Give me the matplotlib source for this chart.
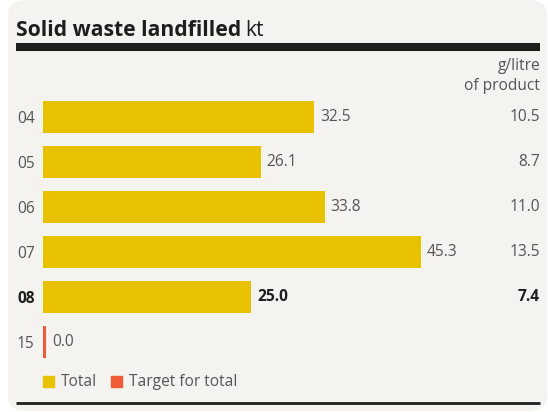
import matplotlib.pyplot as plt
from matplotlib.patches import FancyBboxPatch, Rectangle
from matplotlib.lines import Line2D

years = ['04', '05', '06', '07', '08', '15']
totals = [32.5, 26.1, 33.8, 45.3, 25.0, 0.0]
per_litre = ['10.5', '8.7', '11.0', '13.5', '7.4', '']
bold_year = '08'

yellow = '#e8c200'
red = '#ef5b36'
grey = '#555555'
dark = '#1e1e1e'
panel = '#f4f3ef'

W, H = 548, 412
FS = 11.2
plt.rcParams['font.family'] = ['Open Sans', 'DejaVu Sans']

fig = plt.figure(figsize=(W / 100, H / 100), dpi=100)
fig.patch.set_facecolor('white')


def fx(px):
    return px / W


def fy(py):
    return 1 - py / H


# panel background
fig.patches.append(FancyBboxPatch((fx(8), fy(411)), fx(539), 411 / H,
                                  boxstyle='round,pad=0,rounding_size=0.035',
                                  transform=fig.transFigure, facecolor=panel,
                                  edgecolor='none', zorder=-5))

# title
t1 = fig.text(fx(16), fy(36), 'Solid waste landfilled', fontsize=15.2, fontweight='bold',
              color=dark, va='baseline')
fig.canvas.draw()
x_end = t1.get_window_extent().x1
fig.text(x_end / W + fx(4), fy(36), 'kt', fontsize=15.2, color=dark, va='baseline')
fig.lines.append(Line2D([fx(16), fx(540)], [fy(47), fy(47)], lw=5.8, color=dark,
                        transform=fig.transFigure, solid_capstyle='butt'))
fig.lines.append(Line2D([fx(16), fx(540)], [fy(403), fy(403)], lw=2, color=dark,
                        transform=fig.transFigure, solid_capstyle='butt'))

fig.text(fx(540), fy(70), 'g/litre', fontsize=FS, color=grey, ha='right', va='baseline')
fig.text(fx(540), fy(90), 'of product', fontsize=FS, color=grey, ha='right', va='baseline')

# bars
ax = fig.add_axes([fx(43), fy(364.5), fx(500), 270 / H])
ax.set_facecolor('none')
ax.set_xlim(0, 60)
ax.set_ylim(len(years) - 0.5, -0.5)
for s in ax.spines.values():
    s.set_visible(False)
ax.set_xticks([])

ypos = list(range(len(years)))
ax.barh(ypos[:-1], totals[:-1], height=0.69, color=yellow)
ax.barh(ypos[-1:], [0.35], height=0.69, color=red)

ax.set_yticks(ypos)
ax.set_yticklabels(years, fontsize=FS, color=grey)
ax.tick_params(axis='y', length=0, pad=6)
for lab in ax.get_yticklabels():
    if lab.get_text() == bold_year:
        lab.set_fontweight('bold')
        lab.set_color(dark)

for i, (y, v) in enumerate(zip(years, totals)):
    b = y == bold_year
    x = max(v, 0.35)
    ax.annotate(f'{v:.1f}', (x, i), xytext=(6, 0), textcoords='offset pixels',
                va='center', ha='left', fontsize=FS,
                fontweight='bold' if b else 'normal', color=dark if b else grey)
    if per_litre[i]:
        ax.text(0.994, i, per_litre[i], transform=ax.get_yaxis_transform(),
                ha='right', va='center', fontsize=FS,
                fontweight='bold' if b else 'normal', color=dark if b else grey)

# legend
fig.patches.append(Rectangle((fx(43), fy(387)), fx(11), 11 / H, color=yellow,
                             transform=fig.transFigure))
fig.text(fx(61), fy(381.5), 'Total', fontsize=FS, color=grey, va='center')
fig.patches.append(Rectangle((fx(111), fy(387)), fx(11), 11 / H, color=red,
                             transform=fig.transFigure))
fig.text(fx(129), fy(381.5), 'Target for total', fontsize=FS, color=grey, va='center')

fig.savefig('out.png', dpi=100)
